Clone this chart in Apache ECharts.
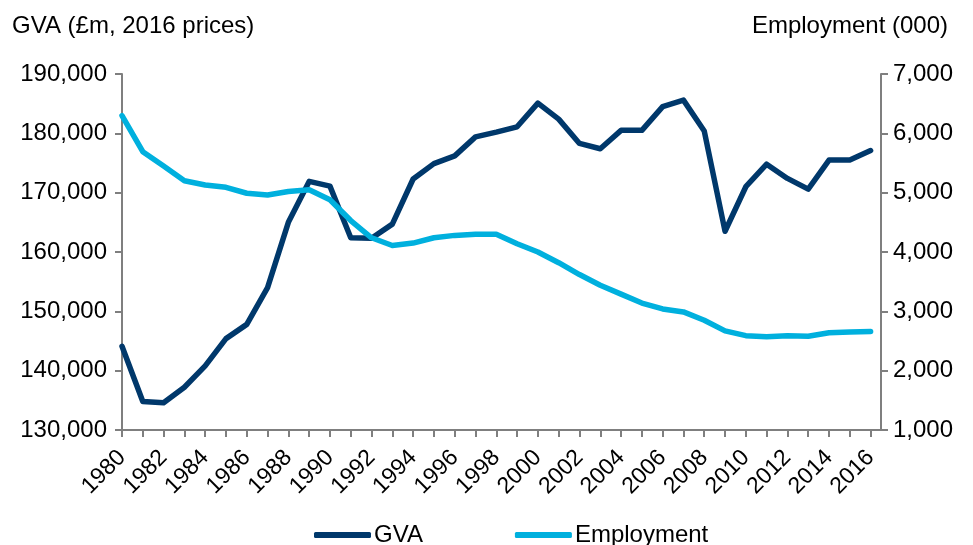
<!DOCTYPE html>
<html>
<head>
<meta charset="utf-8">
<script src="https://cdn.jsdelivr.net/npm/echarts@6/dist/echarts.min.js"></script>
<style>
  html, body { margin: 0; padding: 0; background: #fff; }
  #chart { width: 973px; height: 545px; }
</style>
</head>
<body>
<div id="chart"></div>
<script>
// years on the x axis
var years = [];
for (var y = 1980; y <= 2016; y++) { years.push(y); }

// GVA, £m in 2016 prices (left axis)
var gva = [144100, 134800, 134600, 137200, 140800, 145400, 147800, 154000, 165000, 171900,
           171100, 162400, 162300, 164700, 172300, 174900, 176200, 179400, 180200, 181100,
           185100, 182400, 178300, 177400, 180500, 180500, 184500, 185600, 180400, 163500,
           171000, 174800, 172400, 170600, 175500, 175500, 177100];

// Employment, thousands (right axis)
var employment = [6300, 5690, 5450, 5200, 5130, 5090, 4990, 4960, 5020, 5050,
                  4880, 4530, 4240, 4110, 4150, 4240, 4280, 4300, 4300, 4140,
                  4000, 3820, 3620, 3440, 3290, 3140, 3040, 2990, 2850, 2670,
                  2590, 2570, 2590, 2580, 2640, 2650, 2660];

function addCommas(v) {
    return String(v).replace(/\B(?=(\d{3})+(?!\d))/g, ',');
}

function pairs(vals) {
    return years.map(function (yr, i) { return [yr, vals[i]]; });
}

var axisGrey = '#7f7f7f';
var font = 'Liberation Sans, Arial, sans-serif';
var fs = 24;

var myChart = echarts.init(document.getElementById('chart'));
var option = {
    animation: false,
    textStyle: { fontFamily: font, color: '#000' },
    title: [
        { text: 'GVA (£m, 2016 prices)', left: 7, top: 9,
          textStyle: { fontSize: fs, fontWeight: 'normal', color: '#000', fontFamily: font } },
        { text: 'Employment (000)', right: 20, top: 9,
          textStyle: { fontSize: fs, fontWeight: 'normal', color: '#000', fontFamily: font } }
    ],
    grid: { left: 122, right: 92, top: 74, bottom: 115, containLabel: false },
    legend: {
        top: 518,
        left: 309,
        itemGap: 92,
        itemWidth: 57,
        itemHeight: 6,
        textStyle: { fontSize: fs, color: '#000', fontFamily: font, padding: [0, 0, 0, -2] },
        data: [
            { name: 'GVA', icon: 'roundRect' },
            { name: 'Employment', icon: 'roundRect' }
        ]
    },
    xAxis: {
        type: 'value',
        min: 1980,
        max: 2016.5,
        interval: 1,
        axisLine: { lineStyle: { color: axisGrey, width: 2 } },
        axisTick: { show: true, length: 7, lineStyle: { color: axisGrey, width: 2 } },
        splitLine: { show: false },
        axisLabel: {
            rotate: 45,
            margin: 24,
            fontSize: 23,
            color: '#000',
            fontFamily: font,
            showMaxLabel: false,
            formatter: function (v) { return v % 2 === 0 ? String(v) : ''; }
        }
    },
    yAxis: [
        {
            type: 'value',
            min: 130000,
            max: 190000,
            interval: 10000,
            axisLine: { show: true, lineStyle: { color: axisGrey, width: 2 } },
            axisTick: { show: true, length: 7, lineStyle: { color: axisGrey, width: 2 } },
            splitLine: { show: false },
            axisLabel: { fontSize: fs, color: '#000', margin: 15, fontFamily: font,
                         formatter: addCommas }
        },
        {
            type: 'value',
            position: 'right',
            min: 1000,
            max: 7000,
            interval: 1000,
            axisLine: { show: true, lineStyle: { color: axisGrey, width: 2 } },
            axisTick: { show: true, length: 7, lineStyle: { color: axisGrey, width: 2 } },
            splitLine: { show: false },
            axisLabel: { fontSize: fs, color: '#000', margin: 12, fontFamily: font,
                         formatter: addCommas }
        }
    ],
    series: [
        {
            name: 'GVA',
            type: 'line',
            yAxisIndex: 0,
            data: pairs(gva),
            showSymbol: false,
            symbol: 'none',
            itemStyle: { color: '#00386b' },
            lineStyle: { color: '#00386b', width: 5.5, join: 'round', cap: 'round' }
        },
        {
            name: 'Employment',
            type: 'line',
            yAxisIndex: 1,
            data: pairs(employment),
            showSymbol: false,
            symbol: 'none',
            itemStyle: { color: '#00b0de' },
            lineStyle: { color: '#00b0de', width: 5.5, join: 'round', cap: 'round' }
        }
    ]
};
myChart.setOption(option);
</script>
</body>
</html>
